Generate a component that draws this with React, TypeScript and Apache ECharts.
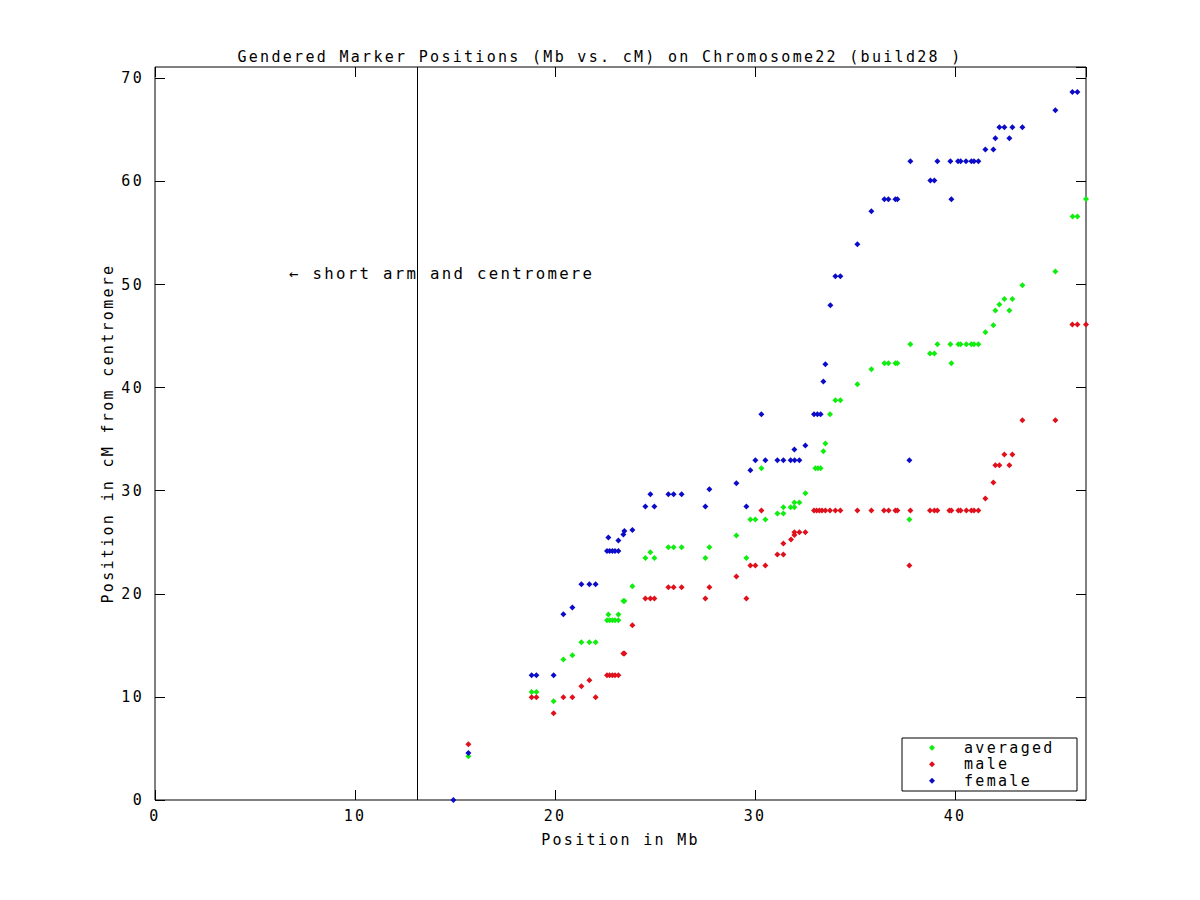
import React, { useEffect, useRef } from "react";
import * as echarts from "echarts";

// Position in Mb vs. position in cM
const averaged: [number, number][] = [
  [15.67, 4.24],
  [18.83, 10.47], [19.07, 10.47], [19.93, 9.57], [20.42, 13.64], [20.87, 14.03],
  [21.32, 15.29], [21.72, 15.29], [22.03, 15.29],
  [22.67, 18.0], [23.17, 18.0],
  [22.6, 17.43], [22.73, 17.43], [22.87, 17.43], [23.0, 17.43], [23.17, 17.43],
  [23.42, 19.31], [23.47, 19.31], [23.87, 20.73],
  [24.52, 23.47], [24.97, 23.47], [24.77, 24.02],
  [25.67, 24.51], [25.93, 24.51], [26.33, 24.51],
  [27.52, 23.47], [27.72, 24.51], [29.07, 25.65], [29.57, 23.47],
  [29.77, 27.2], [30.02, 27.2], [30.52, 27.2], [30.32, 32.17],
  [31.12, 27.8], [31.42, 27.8], [31.42, 28.4], [31.78, 28.4], [31.97, 28.4],
  [31.97, 28.85], [32.22, 28.85], [32.52, 29.75],
  [33.02, 32.17], [33.15, 32.17], [33.28, 32.17], [33.42, 33.82], [33.52, 34.58],
  [33.75, 37.41], [34.02, 38.77], [34.27, 38.77], [35.12, 40.32], [35.82, 41.78],
  [36.47, 42.36], [36.67, 42.36], [37.02, 42.36], [37.12, 42.36],
  [37.72, 27.2], [37.77, 44.2], [38.75, 43.31], [38.97, 43.31], [39.12, 44.2],
  [39.77, 44.2], [39.82, 42.36],
  [40.17, 44.2], [40.28, 44.2], [40.57, 44.2], [40.82, 44.2], [40.95, 44.2], [41.17, 44.2],
  [41.52, 45.36], [41.92, 46.04], [42.02, 47.48], [42.22, 48.06], [42.47, 48.59],
  [42.72, 47.48], [42.87, 48.59], [43.37, 49.92], [45.02, 51.27],
  [45.88, 56.6], [46.12, 56.6], [46.55, 58.3],
];

const male: [number, number][] = [
  [15.67, 5.4],
  [18.83, 9.96], [19.07, 9.96], [19.93, 8.41], [20.42, 9.96], [20.87, 9.96],
  [21.32, 11.03], [21.72, 11.61], [22.03, 9.96],
  [22.6, 12.09], [22.73, 12.09], [22.87, 12.09], [23.0, 12.09], [23.17, 12.09],
  [23.42, 14.2], [23.47, 14.2], [23.87, 16.94],
  [24.52, 19.54], [24.77, 19.54], [24.97, 19.54],
  [25.67, 20.63], [25.93, 20.63], [26.33, 20.63],
  [27.52, 19.54], [27.72, 20.63], [29.07, 21.68], [29.57, 19.54],
  [29.77, 22.74], [30.02, 22.74], [30.52, 22.74], [30.32, 28.08],
  [31.12, 23.81], [31.42, 23.81], [31.42, 24.88], [31.8, 25.27],
  [31.97, 25.7], [31.97, 25.96], [32.22, 25.96], [32.52, 25.96],
  [32.95, 28.08], [33.08, 28.08], [33.22, 28.08], [33.35, 28.08], [33.52, 28.08],
  [33.75, 28.08], [34.02, 28.08], [34.27, 28.08], [35.12, 28.08], [35.82, 28.08],
  [36.45, 28.08], [36.68, 28.08], [37.02, 28.08], [37.12, 28.08], [37.77, 28.08],
  [38.75, 28.08], [38.97, 28.08], [39.12, 28.08], [39.72, 28.08], [39.82, 28.08],
  [40.17, 28.08], [40.28, 28.08], [40.57, 28.08], [40.82, 28.08], [40.95, 28.08], [41.17, 28.08],
  [37.72, 22.74],
  [41.52, 29.24], [41.92, 30.8], [42.02, 32.46], [42.22, 32.46], [42.47, 33.52],
  [42.72, 32.46], [42.87, 33.52], [43.37, 36.83], [45.02, 36.83],
  [45.87, 46.12], [46.12, 46.12], [46.55, 46.12],
];

const female: [number, number][] = [
  [14.92, 0], [15.67, 4.56],
  [18.83, 12.09], [19.07, 12.09], [19.93, 12.09], [20.42, 18.01], [20.87, 18.68],
  [21.32, 20.92], [21.72, 20.92], [22.03, 20.92],
  [22.6, 24.15], [22.73, 24.15], [22.87, 24.15], [23.0, 24.15], [23.17, 24.15],
  [22.67, 25.46], [23.17, 25.17], [23.42, 25.75], [23.47, 26.09], [23.87, 26.2],
  [24.52, 28.47], [24.97, 28.47], [24.77, 29.65],
  [25.67, 29.65], [25.93, 29.65], [26.33, 29.65],
  [27.52, 28.47], [27.72, 30.14], [29.07, 30.72], [29.57, 28.47], [29.77, 31.98],
  [30.02, 32.95], [30.52, 32.95], [30.32, 37.41],
  [31.12, 32.95], [31.42, 32.95], [31.78, 32.95], [31.98, 32.95], [32.22, 32.95],
  [31.97, 34.0], [32.52, 34.39],
  [32.95, 37.41], [33.12, 37.41], [33.28, 37.41], [33.42, 40.6], [33.52, 42.26],
  [33.77, 48.0], [34.02, 50.8], [34.27, 50.8], [35.12, 53.9], [35.82, 57.1],
  [36.47, 58.26], [36.67, 58.26], [37.02, 58.26], [37.12, 58.26],
  [37.72, 32.95], [37.77, 61.95], [38.77, 60.1], [38.97, 60.1], [39.12, 61.95],
  [39.77, 61.95], [39.82, 58.26],
  [40.15, 61.95], [40.28, 61.95], [40.55, 61.95], [40.82, 61.95], [40.95, 61.95], [41.17, 61.95],
  [41.52, 63.1], [41.92, 63.1], [42.02, 64.18], [42.22, 65.25], [42.47, 65.25],
  [42.72, 64.18], [42.87, 65.25], [43.37, 65.25], [45.02, 66.9],
  [45.87, 68.67], [46.12, 68.67],
];

const seriesNames = ["averaged", "male", "female"];
const seriesColors = ["#10ee10", "#e0101c", "#0c0cc8"];
const centromereMb = 13.1;
const xRange = [0, 46.55];
const yRange = [0, 71.1];
const tickStep = 10;

const FONT = "DejaVu Sans Mono";

export default function App() {
  const ref = useRef<HTMLDivElement>(null);

  useEffect(() => {
    if (!ref.current) return;
    const chart = echarts.init(ref.current, null, { renderer: "svg" });

    const tickAxisCommon = {
      type: "value" as const,
      interval: tickStep,
      axisLine: { show: false, onZero: false },
      axisTick: { show: true, inside: true, length: 10, lineStyle: { color: "#000", width: 1 } },
      splitLine: { show: false },
    };

    const labelFmt = (v: number) => (v % tickStep === 0 ? String(v) : "");

    const option: any = {
      animation: false,
      backgroundColor: "#fff",
      title: {
        text: "Gendered Marker Positions (Mb vs. cM) on Chromosome22 (build28 )",
        left: "center",
        top: 44,
        textStyle: { fontFamily: FONT, fontSize: 15, fontWeight: "normal", color: "#000" },
      },
      grid: {
        left: 155,
        top: 67,
        width: 931,
        height: 733,
        show: true,
        borderColor: "#000",
        borderWidth: 1,
        containLabel: false,
      },
      legend: {
        orient: "vertical",
        left: 929,
        top: 740,
        itemWidth: 6,
        itemHeight: 6,
        itemGap: 1,
        padding: 0,
        icon: "diamond",
        data: seriesNames,
        textStyle: {
          fontFamily: FONT,
          fontSize: 15,
          color: "#000",
          lineHeight: 15.5,
          padding: [0, 0, 0, 24],
        },
      },
      xAxis: [
        {
          ...tickAxisCommon,
          min: xRange[0],
          max: xRange[1],
          position: "bottom",
          name: "Position in Mb",
          nameLocation: "middle",
          nameGap: 32,
          nameTextStyle: { fontFamily: FONT, fontSize: 15, color: "#000" },
          axisLabel: {
            show: true,
            margin: 8,
            formatter: labelFmt,
            showMaxLabel: false,
            fontFamily: FONT,
            fontSize: 15,
            color: "#000",
          },
        },
        {
          ...tickAxisCommon,
          min: xRange[0],
          max: xRange[1],
          position: "top",
          axisLabel: { show: false },
        },
      ],
      yAxis: [
        {
          ...tickAxisCommon,
          min: yRange[0],
          max: yRange[1],
          position: "left",
          name: "Position in cM from centromere",
          nameLocation: "middle",
          nameGap: 35,
          nameTextStyle: { fontFamily: FONT, fontSize: 15, color: "#000" },
          axisLabel: {
            show: true,
            margin: 11,
            formatter: labelFmt,
            showMaxLabel: false,
            fontFamily: FONT,
            fontSize: 15,
            color: "#000",
          },
        },
        {
          ...tickAxisCommon,
          min: yRange[0],
          max: yRange[1],
          position: "right",
          axisLabel: { show: false },
        },
      ],
      series: [
        {
          name: seriesNames[0],
          type: "scatter",
          data: averaged,
          symbol: "diamond",
          symbolSize: 6,
          itemStyle: { color: seriesColors[0], opacity: 1 },
          markLine: {
            silent: true,
            symbol: "none",
            label: { show: false },
            lineStyle: { color: "#000", width: 1, type: "solid" },
            data: [{ xAxis: centromereMb }],
          },
        },
        {
          name: seriesNames[1],
          type: "scatter",
          data: male,
          symbol: "diamond",
          symbolSize: 6,
          itemStyle: { color: seriesColors[1], opacity: 1 },
        },
        {
          name: seriesNames[2],
          type: "scatter",
          data: female,
          symbol: "diamond",
          symbolSize: 6,
          itemStyle: { color: seriesColors[2], opacity: 1 },
        },
      ],
      graphic: [
        {
          type: "rect",
          z: 3,
          shape: { x: 902, y: 738, width: 175, height: 53 },
          style: { fill: "#fff", stroke: "#000", lineWidth: 1 },
        },
        {
          type: "text",
          z: 5,
          x: 289,
          y: 273,
          style: {
            text: "← short arm and centromere",
            fontFamily: FONT,
            fontSize: 15.7,
            fill: "#000",
            verticalAlign: "middle",
            align: "left",
          },
        },
      ],
    };

    chart.setOption(option);
    return () => chart.dispose();
  }, []);

  return (
    <>
      <style>{`.chartbox text { letter-spacing: 2.3px; }`}</style>
      <div
        ref={ref}
        className="chartbox"
        style={{ position: "absolute", left: 0, top: 0, width: 1200, height: 900 }}
      />
    </>
  );
}
